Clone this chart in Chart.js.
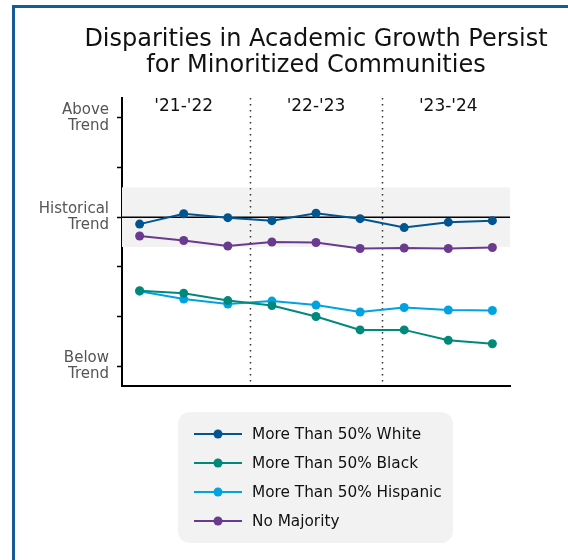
<!DOCTYPE html>
<html>
<head>
<meta charset="utf-8">
<script src="https://cdn.jsdelivr.net/npm/chart.js@4.4.1/dist/chart.umd.min.js"></script>
<style>
    html, body { margin: 0; padding: 0; background: #ffffff; }
    #wrap { position: relative; width: 568px; height: 560px; overflow: hidden; }
    #frame { position: absolute; left: 12px; top: 5px; width: 600px; height: 600px;
             border-left: 3px solid #165b99; border-top: 3px solid #165b99; box-sizing: border-box; }
    canvas { position: absolute; left: 0; top: 0; }
</style>
</head>
<body>
<div id="wrap">
    <div id="frame"></div>
    <canvas id="grafico" width="568" height="560"></canvas>
</div>
<script>
var fonte = "'DejaVu Sans', 'Noto Sans', sans-serif";

var titulo = ['Disparities in Academic Growth Persist', 'for Minoritized Communities'];
var anosLetivos = ["'21-'22", "'22-'23", "'23-'24"];
var posAnos = [2, 5, 8];
var divisorias = [3.5, 6.5];
var pontosX = [1, 2, 3, 4, 5, 6, 7, 8, 9];

var nomesSeries = ['More Than 50% White', 'More Than 50% Black', 'More Than 50% Hispanic', 'No Majority'];
var coresSeries = ['#00548f', '#00897b', '#00a3e0', '#6a3a8e'];

var maisBrancos = [-0.14, 0.07, -0.01, -0.07, 0.08, -0.03, -0.21, -0.10, -0.07];
var maisNegros = [-1.48, -1.53, -1.68, -1.78, -2.00, -2.27, -2.27, -2.48, -2.55];
var maisHispanicos = [-1.49, -1.65, -1.75, -1.69, -1.77, -1.91, -1.82, -1.87, -1.88];
var semMaioria = [-0.38, -0.47, -0.58, -0.50, -0.51, -0.63, -0.62, -0.63, -0.61];

var ticksY = [2, 1, 0, -1, -2, -3];
var rotulosY = { '2': ['Above', 'Trend'], '0': ['Historical', 'Trend'], '-3': ['Below', 'Trend'] };
var faixaHistorica = [-0.6, 0.6];

function serie(valores) {
    return valores.map(function (v, i) { return { x: pontosX[i], y: v }; });
}

var valoresSeries = [maisBrancos, maisNegros, maisHispanicos, semMaioria];
var datasets = valoresSeries.map(function (vals, i) {
    return {
        label: nomesSeries[i],
        data: serie(vals),
        borderColor: coresSeries[i],
        backgroundColor: coresSeries[i],
        borderWidth: 2,
        pointRadius: 4.5,
        pointHoverRadius: 4.5,
        pointBorderWidth: 0,
        tension: 0,
    };
});

// faixa cinza, linha do historico e divisorias pontilhadas
var pluginFundo = {
    id: 'fundo',
    beforeDatasetsDraw: function (chart) {
        var ctx = chart.ctx, a = chart.chartArea;
        var sx = chart.scales.x, sy = chart.scales.y;
        ctx.save();
        ctx.fillStyle = '#f2f2f2';
        var yTop = sy.getPixelForValue(faixaHistorica[1]);
        var yBot = sy.getPixelForValue(faixaHistorica[0]);
        ctx.fillRect(a.left, yTop, a.right - a.left, yBot - yTop);

        ctx.strokeStyle = '#000';
        ctx.lineWidth = 1.5;
        ctx.beginPath();
        ctx.moveTo(a.left, sy.getPixelForValue(0));
        ctx.lineTo(a.right, sy.getPixelForValue(0));
        ctx.stroke();

        ctx.strokeStyle = '#333';
        ctx.lineWidth = 1.5;
        ctx.setLineDash([1.5, 4.5]);
        divisorias.forEach(function (d) {
            var px = Math.round(sx.getPixelForValue(d)) + 0.5;
            ctx.beginPath();
            ctx.moveTo(px, a.top);
            ctx.lineTo(px, a.bottom);
            ctx.stroke();
        });
        ctx.restore();
    },
    afterDraw: function (chart) {
        var ctx = chart.ctx, a = chart.chartArea;
        var sx = chart.scales.x;
        ctx.save();
        // titulo
        ctx.fillStyle = '#111';
        ctx.textAlign = 'center';
        ctx.textBaseline = 'middle';
        ctx.font = '24px ' + fonte;
        var cx = (a.left + a.right) / 2;
        ctx.fillText(titulo[0], cx, 40);
        ctx.fillText(titulo[1], cx, 66);

        // anos letivos
        ctx.font = '17px ' + fonte;
        anosLetivos.forEach(function (t, i) {
            ctx.fillText(t, sx.getPixelForValue(posAnos[i]), 107);
        });

        // legenda
        var lx = 178, ly = 412, lw = 275, lh = 131;
        ctx.fillStyle = '#f2f2f2';
        ctx.beginPath();
        ctx.roundRect(lx, ly, lw, lh, 12);
        ctx.fill();
        ctx.textAlign = 'left';
        ctx.font = '15.3px ' + fonte;
        chart.data.datasets.forEach(function (ds, i) {
            var y = 434 + i * 29;
            ctx.strokeStyle = ds.borderColor;
            ctx.lineWidth = 2;
            ctx.beginPath();
            ctx.moveTo(194, y);
            ctx.lineTo(242, y);
            ctx.stroke();
            ctx.fillStyle = ds.borderColor;
            ctx.beginPath();
            ctx.arc(218, y, 4.5, 0, Math.PI * 2);
            ctx.fill();
            ctx.fillStyle = '#111';
            ctx.fillText(ds.label, 252, y + 1);
        });
        ctx.restore();
    }
};

new Chart(document.getElementById('grafico').getContext('2d'), {
    type: 'line',
    data: { datasets: datasets },
    options: {
        responsive: false,
        animation: false,
        layout: { padding: { top: 98, right: 58, bottom: 174, left: 0 } },
        plugins: {
            legend: { display: false },
            tooltip: { enabled: false },
        },
        scales: {
            x: {
                type: 'linear',
                min: 0.6,
                max: 9.4,
                ticks: { display: false },
                grid: { display: false },
                border: { display: true, color: '#000', width: 2 },
                afterFit: function (s) { s.height = 0; },
            },
            y: {
                min: -3.4,
                max: 2.4,
                afterBuildTicks: function (s) {
                    s.ticks = ticksY.map(function (v) { return { value: v }; });
                },
                ticks: {
                    color: '#555',
                    font: { family: fonte, size: 15, lineHeight: 1.1 },
                    padding: 8,
                    callback: function (v) { return rotulosY[String(v)] || ''; },
                },
                grid: { drawOnChartArea: false, color: '#000', tickLength: 5, tickWidth: 1.5 },
                border: { display: true, color: '#000', width: 2 },
                afterFit: function (s) { s.width = 122; },
            },
        },
    },
    plugins: [pluginFundo],
});
</script>
</body>
</html>
